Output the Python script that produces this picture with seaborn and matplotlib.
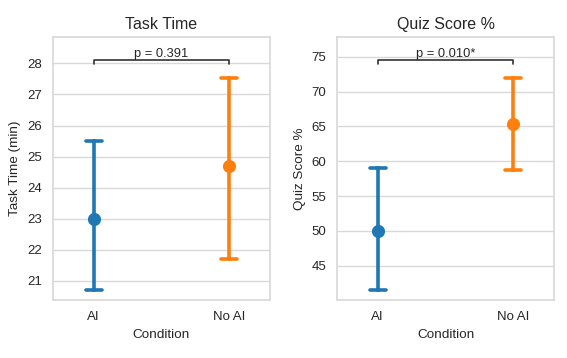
import numpy as np
import pandas as pd
import matplotlib
matplotlib.use("Agg")
import matplotlib.pyplot as plt
import seaborn as sns

conditions = ["AI", "No AI"]
time_mean = [23.0, 24.68]
time_lo = [20.70, 21.71]
time_hi = [25.50, 27.53]
quiz_mean = [50.0, 65.38]
quiz_lo = [41.5, 58.8]
quiz_hi = [58.97, 71.98]
p_labels = ["p = 0.391", "p = 0.010*"]

sns.set_theme(style="whitegrid")
plt.rcParams["font.family"] = ["Liberation Sans", "DejaVu Sans"]
plt.rcParams["axes.edgecolor"] = "#d9d9d9"
plt.rcParams["grid.color"] = "#d9d9d9"

def make_df(lo, mean, hi):
    rows = []
    for c, a, m, b in zip(conditions, lo, mean, hi):
        for v in (a, m, b):
            rows.append({"Condition": c, "value": v})
    return pd.DataFrame(rows)

fig, axes = plt.subplots(1, 2, figsize=(5.67, 3.58), dpi=100)
fig.subplots_adjust(left=0.0935, right=0.977, bottom=0.162, top=0.8966, wspace=0.31)

panels = [
    (axes[0], make_df(time_lo, time_mean, time_hi), "Task Time", "Task Time (min)",
     (20.38, 28.85), 28.1, 0.13, p_labels[0]),
    (axes[1], make_df(quiz_lo, quiz_mean, quiz_hi), "Quiz Score %", "Quiz Score %",
     (40.07, 77.83), 74.6, 0.7, p_labels[1]),
]

for ax, df, title, ylabel, ylim, by, drop, ptxt in panels:
    sns.pointplot(data=df, x="Condition", y="value", hue="Condition",
                  palette=["#1f77b4", "#ff7f0e"], estimator=np.median,
                  errorbar=lambda x: (x.min(), x.max()), capsize=0.12,
                  linestyle="none", markersize=7.5, linewidth=2.6, legend=False, ax=ax)
    ax.set_xlim(-0.3, 1.3)
    ax.set_ylim(*ylim)
    ax.set_title(title, fontsize=11.5)
    ax.set_ylabel(ylabel, fontsize=9.7)
    ax.set_xlabel("Condition", fontsize=9.7)
    ax.tick_params(labelsize=9.5, pad=2)
    ax.plot([0, 0, 1, 1], [by - drop, by, by, by - drop], color="#333333", lw=1.2)
    ax.text(0.5, by, ptxt, ha="center", va="bottom", fontsize=9.3, color="#262626")
    for s in ax.spines.values():
        s.set_color("#d9d9d9")

fig.savefig("out.png", dpi=100)
